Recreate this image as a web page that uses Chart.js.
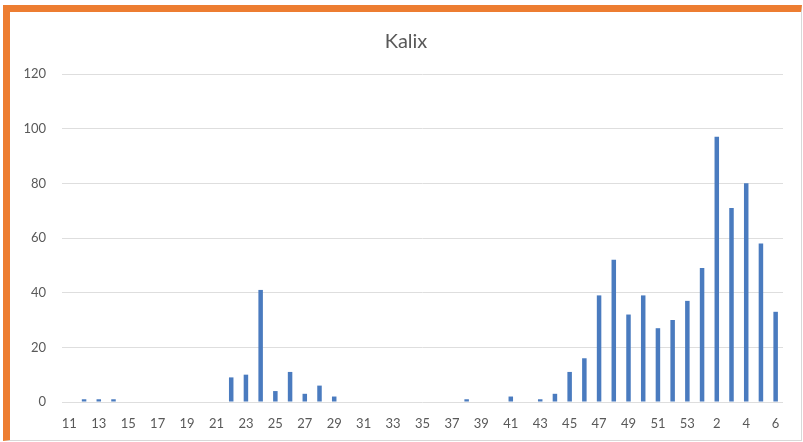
<!DOCTYPE html>
<html>
<head>
<meta charset="utf-8">
<script src="https://cdn.jsdelivr.net/npm/chart.js@4/dist/chart.umd.min.js"></script>
<style>
  html, body { margin: 0; padding: 0; background: #fff; }
  #wrap { position: relative; width: 803px; height: 442px; overflow: hidden; }
  #frame {
    position: absolute; left: 3px; top: 5px; right: 1px; bottom: 1px;
    border-top: 7px solid #ed7d31; border-left: 7px solid #ed7d31;
    border-right: 1px solid #d8d8d8; border-bottom: 1px solid #d8d8d8;
  }
  canvas { position: absolute; left: 0; top: 0; }
</style>
</head>
<body>
<div id="wrap">
  <div id="frame"></div>
  <canvas id="chart" width="803" height="442"></canvas>
</div>
<script>
// week numbers: 11..53 of one year, then 1..6 of the next
const weeks = [11, 12, 13, 14, 15, 16, 17, 18, 19, 20, 21, 22, 23, 24, 25, 26, 27, 28, 29, 30,
  31, 32, 33, 34, 35, 36, 37, 38, 39, 40, 41, 42, 43, 44, 45, 46, 47, 48, 49, 50,
  51, 52, 53, 1, 2, 3, 4, 5, 6];

const cases = [0, 1, 1, 1, 0, 0, 0, 0, 0, 0, 0, 9, 10, 41, 4, 11, 3, 6, 2, 0,
  0, 0, 0, 0, 0, 0, 0, 1, 0, 0, 2, 0, 1, 3, 11, 16, 39, 52, 32, 39,
  27, 30, 37, 49, 97, 71, 80, 58, 33];

const yTicks = [0, 20, 40, 60, 80, 100, 120];

const TITLE = "Kalix";
const TEXT = "#595959";
const FONT = "Lato, 'Open Sans', sans-serif";

// title is centred on the framed box, not on the plot, so draw it by hand
const titlePlugin = {
  id: "frameTitle",
  afterDraw(chart) {
    const ctx = chart.ctx;
    ctx.save();
    ctx.fillStyle = TEXT;
    ctx.font = "20px " + FONT;
    ctx.textAlign = "center";
    ctx.textBaseline = "middle";
    ctx.fillText(TITLE, 406, 42);
    ctx.restore();
  }
};

new Chart(document.getElementById("chart"), {
  type: "bar",
  data: {
    labels: weeks.map(String),
    datasets: [{
      label: TITLE,
      data: cases,
      backgroundColor: "#4a7bbf",
      borderWidth: 0,
      barPercentage: 0.9,
      categoryPercentage: 0.34
    }]
  },
  options: {
    responsive: false,
    animation: false,
    layout: { padding: { left: 0, right: 20, top: 74, bottom: 0 } },
    plugins: {
      legend: { display: false },
      tooltip: { enabled: false },
      title: { display: false }
    },
    scales: {
      x: {
        grid: { display: false },
        border: { display: false },
        ticks: {
          color: TEXT,
          font: { family: FONT, size: 13 },
          autoSkip: false,
          maxRotation: 0,
          padding: 6,
          callback: (v, i) => i % 2 === 0 ? weeks[i] : ""
        },
        afterFit: s => { s.height = 40; }
      },
      y: {
        min: 0,
        max: 120,
        afterBuildTicks: s => { s.ticks = yTicks.map(v => ({ value: v })); },
        grid: { color: "#dedede", lineWidth: 1, drawTicks: false },
        border: { display: false },
        ticks: {
          color: TEXT,
          font: { family: FONT, size: 13 },
          padding: 16
        },
        afterFit: s => { s.width = 62; }
      }
    }
  },
  plugins: [titlePlugin]
});
</script>
</body>
</html>
